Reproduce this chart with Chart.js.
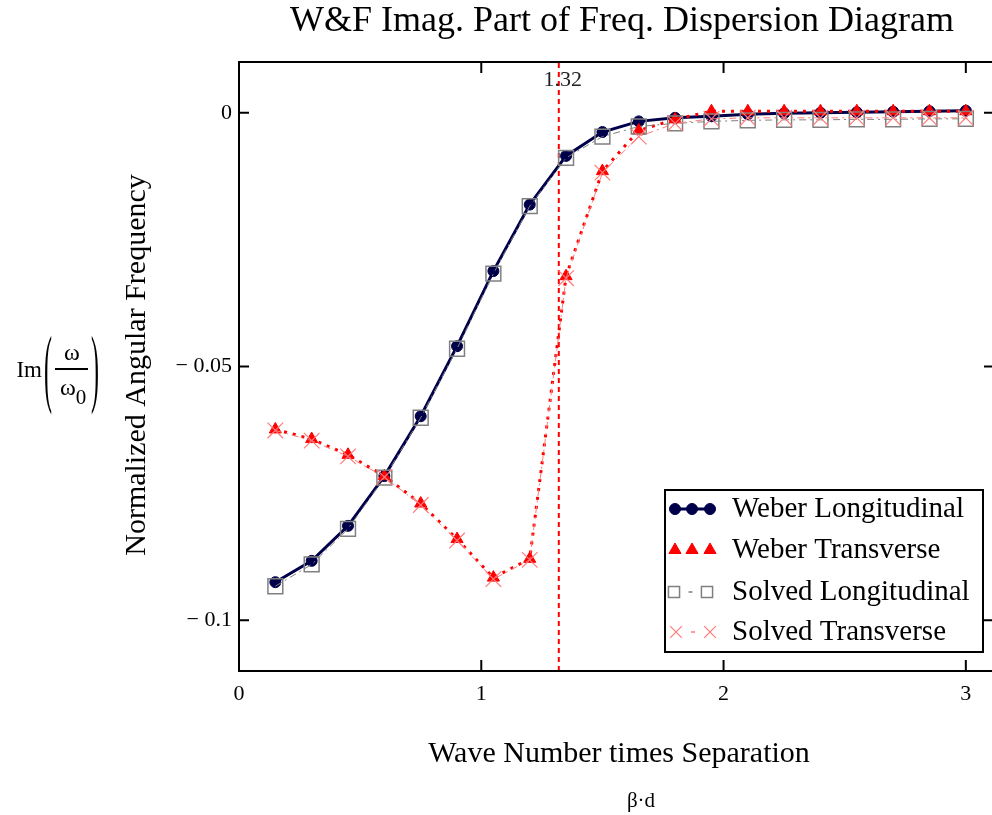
<!DOCTYPE html>
<html><head><meta charset="utf-8">
<script src="https://cdn.jsdelivr.net/npm/chart.js@4/dist/chart.umd.min.js"></script>
<style>html,body{margin:0;padding:0;background:#fff;overflow:hidden}#wrap{width:992px;height:815px}</style>
</head><body><div id="wrap"><canvas id="c" width="992" height="815"></canvas></div>
<script>
// ---- data ----
const chartTitle = "W&F Imag. Part of Freq. Dispersion Diagram";
const xTitle = "Wave Number times Separation";
const xSubTitle = "\u03B2\u00B7d";
const yTitle = "Normalized Angular Frequency";
const betaD = [0.15, 0.30, 0.45, 0.60, 0.75, 0.90, 1.05, 1.20, 1.35, 1.50, 1.65, 1.80, 1.95, 2.10, 2.25, 2.40, 2.55, 2.70, 2.85, 3.00];
const weberLong = [-0.0925, -0.0883, -0.0814, -0.0716, -0.0598, -0.0460, -0.0312, -0.0181, -0.0085, -0.0038, -0.0017, -0.0010, -0.0007, -0.0003, -0.0001, 0.0000, 0.0001, 0.0002, 0.0003, 0.0004];
const weberTrans = [-0.0624, -0.0643, -0.0674, -0.0716, -0.0770, -0.0840, -0.0916, -0.0879, -0.0322, -0.0115, -0.0035, -0.0013, 0.0003, 0.0003, 0.0003, 0.0003, 0.0003, 0.0003, 0.0003, 0.0003];
const solvedLong = [-0.0933, -0.0890, -0.0820, -0.0719, -0.0601, -0.0465, -0.0317, -0.0184, -0.0089, -0.0047, -0.0027, -0.0021, -0.0017, -0.0015, -0.0014, -0.0014, -0.0013, -0.0013, -0.0012, -0.0012];
const solvedTrans = [-0.0626, -0.0646, -0.0677, -0.0718, -0.0773, -0.0843, -0.0919, -0.0881, -0.0326, -0.0118, -0.0047, -0.0021, -0.0012, -0.0010, -0.0010, -0.0010, -0.0010, -0.0010, -0.0010, -0.0010];
const seriesNames = ["Weber Longitudinal", "Weber Transverse", "Solved Longitudinal", "Solved Transverse"];
const markerX = 1.32;
const markerLabel = "1.32";
const xTicks = [0, 1, 2, 3];
const xTickLabels = ["0", "1", "2", "3"];
const yTicks = [0, -0.05, -0.1];
const yTickLabels = ["0", "\u2212 0.05", "\u2212 0.1"];
const xRange = [0, 3.108];
const yRange = [-0.11, 0.01];

// ---- styles ----
const SERIF = '"Liberation Serif","Times New Roman",serif';
const NAVY = '#00004a', RED = '#ff0000', GRAY = '#808080', LRED = '#ff7a7a';
const pts = ys => betaD.map((x, i) => ({x, y: ys[i]}));

const styles = [
  {color: NAVY, width: 3, dash: [], point: 'circle', r: 5.5, fill: true, pbw: 1},
  {color: RED, width: 3, dash: [3, 6], point: 'triangle', r: 7, fill: true, pbw: 1},
  {color: GRAY, width: 1, dash: [7, 4, 2, 4], point: 'rect', r: 10.5, fill: false, pbw: 1.5},
  {color: LRED, width: 1, dash: [7, 4, 2, 4], point: 'crossRot', r: 11, fill: false, pbw: 1.2}
];
const seriesData = [weberLong, weberTrans, solvedLong, solvedTrans];

const datasets = seriesData.map((ys, i) => {
  const s = styles[i];
  return {
    label: seriesNames[i], data: pts(ys), showLine: true,
    borderColor: s.color, borderWidth: s.width, borderDash: s.dash, borderCapStyle: 'butt',
    pointStyle: s.point, pointRadius: s.r, pointHoverRadius: s.r,
    pointBackgroundColor: s.fill ? s.color : 'rgba(0,0,0,0)', pointBorderColor: s.color,
    pointBorderWidth: s.pbw, tension: 0, order: 4 - i, fill: false
  };
});
datasets.push({
  label: 'marker', data: [{x: markerX, y: yRange[0]}, {x: markerX, y: yRange[1]}], showLine: true,
  borderColor: RED, borderWidth: 2, borderDash: [5, 4], pointRadius: 0, order: 10, fill: false
});

function seg(ctx, x1, y1, x2, y2) { ctx.beginPath(); ctx.moveTo(x1, y1); ctx.lineTo(x2, y2); ctx.stroke(); }

const decor = {
  id: 'decor',
  afterDraw(chart) {
    const {ctx, chartArea: a, scales: {x, y}} = chart;
    ctx.save();
    ctx.setLineDash([]);
    ctx.strokeStyle = '#000'; ctx.lineWidth = 2;
    ctx.beginPath();
    ctx.moveTo(a.right + 2, a.top); ctx.lineTo(a.left, a.top); ctx.lineTo(a.left, a.bottom); ctx.lineTo(a.right + 2, a.bottom);
    ctx.stroke();
    xTicks.forEach(v => { if (v === xRange[0]) return; const px = x.getPixelForValue(v);
      seg(ctx, px, a.top, px, a.top + 11); seg(ctx, px, a.bottom, px, a.bottom - 11); });
    yTicks.forEach(v => { const py = y.getPixelForValue(v);
      seg(ctx, a.left, py, a.left + 10, py); seg(ctx, a.right, py, a.right - 8, py); });

    ctx.fillStyle = '#000';
    ctx.textAlign = 'center'; ctx.textBaseline = 'middle';
    ctx.font = '36px ' + SERIF; ctx.fillText(chartTitle, 622, 22);
    ctx.font = '30px ' + SERIF; ctx.fillText(xTitle, 619, 754);
    ctx.font = '21px ' + SERIF; ctx.fillText(xSubTitle, 641, 801);
    ctx.save(); ctx.translate(137, 365); ctx.rotate(-Math.PI / 2);
    ctx.font = '30px ' + SERIF; ctx.fillText(yTitle, 0, 0); ctx.restore();

    // marker label
    ctx.fillStyle = '#222'; ctx.font = '22px ' + SERIF;
    ctx.fillText(markerLabel, x.getPixelForValue(markerX) + 4, 80);

    // Im(ω/ω0)
    ctx.fillStyle = '#000';
    ctx.font = '23px ' + SERIF; ctx.textAlign = 'right'; ctx.fillText('Im', 42, 371);
    ctx.textAlign = 'center';
    ctx.save(); ctx.translate(48, 373); ctx.scale(1, 3.6); ctx.font = '24px ' + SERIF; ctx.fillText('(', 0, 0); ctx.restore();
    ctx.save(); ctx.translate(95, 373); ctx.scale(1, 3.6); ctx.font = '24px ' + SERIF; ctx.fillText(')', 0, 0); ctx.restore();
    ctx.lineWidth = 2; seg(ctx, 55, 369, 88, 369);
    ctx.font = '24px ' + SERIF; ctx.fillText('\u03C9', 72, 354);
    ctx.fillText('\u03C9', 68, 389);
    ctx.font = '21px ' + SERIF; ctx.fillText('0', 81, 398);

    // legend
    const L = {x: 665, y: 490, w: 318, h: 162};
    ctx.fillStyle = '#fff'; ctx.fillRect(L.x, L.y, L.w, L.h);
    ctx.strokeStyle = '#000'; ctx.lineWidth = 2; ctx.strokeRect(L.x, L.y, L.w, L.h);
    const rows = [509, 550, 592, 632];
    const symX = [[675, 692, 710], [675, 692, 710], [674, 707], [676, 710]];
    rows.forEach((ry, i) => {
      const s = styles[i];
      ctx.strokeStyle = s.color; ctx.lineWidth = s.width;
      ctx.setLineDash(s.dash);
      const xs = symX[i];
      if (i === 0) seg(ctx, xs[0], ry, xs[xs.length - 1], ry);
      if (i >= 2) { ctx.setLineDash([]); ctx.lineWidth = 1.5; seg(ctx, (xs[0] + xs[1]) / 2 - 2, ry, (xs[0] + xs[1]) / 2 + 2, ry); }
      ctx.setLineDash([]);
      xs.forEach(px => {
        ctx.fillStyle = s.fill ? s.color : 'rgba(0,0,0,0)';
        ctx.strokeStyle = s.color; ctx.lineWidth = s.pbw;
        Chart.helpers.drawPoint(ctx, {pointStyle: s.point, radius: i >= 2 ? s.r * 0.75 : s.r, rotation: 0, borderWidth: s.pbw}, px, ry);
      });
      ctx.fillStyle = '#000'; ctx.textAlign = 'left'; ctx.textBaseline = 'middle';
      ctx.font = '29px ' + SERIF; ctx.fillText(seriesNames[i], 732, ry);
    });
    ctx.restore();
  }
};

new Chart(document.getElementById('c'), {
  type: 'scatter',
  data: {datasets},
  options: {
    responsive: false, animation: false, devicePixelRatio: 1,
    layout: {autoPadding: false, padding: {left: 0, top: 62, right: 0, bottom: 0}},
    plugins: {legend: {display: false}, tooltip: {enabled: false}, title: {display: false}},
    scales: {
      x: {type: 'linear', min: xRange[0], max: xRange[1],
        afterBuildTicks: s => { s.ticks = xTicks.map(v => ({value: v})); },
        afterFit: s => { s.height = 144; s.paddingRight = 0; s.paddingLeft = 0; },
        grid: {display: false, drawTicks: false}, border: {display: false},
        ticks: {font: {family: SERIF, size: 22}, color: '#000', padding: 10, maxRotation: 0,
          callback: (v) => { const k = xTicks.indexOf(v); return k >= 0 ? xTickLabels[k] : ''; }}},
      y: {type: 'linear', min: yRange[0], max: yRange[1],
        afterBuildTicks: s => { s.ticks = yTicks.map(v => ({value: v})); },
        afterFit: s => { s.width = 239; s.paddingTop = 0; s.paddingBottom = 0; },
        grid: {display: false, drawTicks: false}, border: {display: false},
        ticks: {font: {family: SERIF, size: 22}, color: '#000', padding: 7,
          callback: (v) => { const k = yTicks.indexOf(v); return k >= 0 ? yTickLabels[k] : ''; }}}
    }
  },
  plugins: [decor]
});
</script>
</body></html>
